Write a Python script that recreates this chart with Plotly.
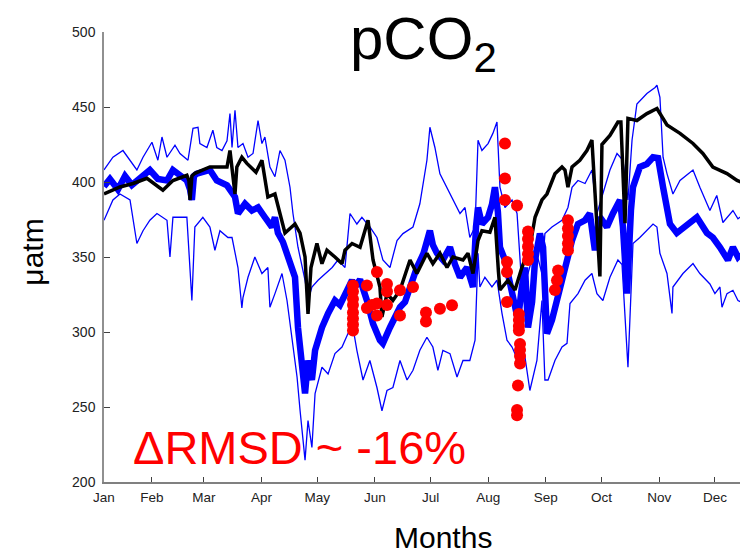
import plotly.graph_objects as go

# ---------------- data (x = day of year, y = pCO2 in µatm) ----------------
x_min, x_max = 5.2, 347.5
month_days = [x_min, 31, 59, 90, 120, 151, 181, 212, 243, 273, 304, 334]
month_labels = ["Jan", "Feb", "Mar", "Apr", "May", "Jun", "Jul", "Aug", "Sep", "Oct", "Nov", "Dec"]
y_ticks = [200, 250, 300, 350, 400, 450, 500]

black_day = [5.2, 13.8, 20.8, 28.3, 36.9, 42.3, 49.8, 50.9, 51.5, 52.5, 54.1, 62.2, 71.4, 73.0, 75.7,
             76.7, 79.4, 82.1, 87.0, 90.2, 93.4, 97.2, 99.9, 102.6, 108.0, 110.7, 113.4, 115.0, 116.6,
             119.8, 122.5, 125.2, 129.5, 133.3, 134.9, 138.7, 143.0, 147.3, 150.0, 153.7, 154.8, 157.5,
             160.7, 164.5, 169.9, 173.6, 179.0, 182.2, 186.0, 189.8, 193.0, 198.4, 201.1, 203.8, 206.5,
             208.6, 212.9, 215.6, 217.5, 218.3, 222.6, 226.4, 230.1, 234.4, 237.2, 240.9, 243.6, 247.9,
             251.7, 253.3, 254.9, 257.1, 261.3, 265.1, 267.8, 272.1, 273.2, 277.5, 281.8, 283.4, 285.6,
             287.2, 292.0, 297.4, 302.8, 308.2, 315.2, 322.2, 327.5, 332.9, 340.5, 345.9, 348.0]
black_val = [392, 396.7, 399, 402.5, 394.5, 401, 404.5, 401, 388, 404, 405.8, 410, 410, 421, 392,
             410, 416.5, 412.4, 406.5, 414.5, 390, 392, 379, 366, 372, 366, 350, 312, 343,
             359, 345.5, 354.5, 350, 345.6, 354.5, 359, 356.5, 374.5, 348, 330, 310, 325.5,
             321, 327.8, 348, 339, 352.5, 345.6, 352.5, 343, 350, 348, 352.5, 339, 361,
             367.5, 366.5, 376.5, 340, 328, 334.5, 328, 343, 356.5, 376.5, 388, 392, 405.5,
             410, 408, 396.5, 410, 414.5, 421, 428, 337, 425, 431, 440, 440, 372.5,
             442.4, 441, 445.6, 449, 438, 432.4, 425.7, 419, 410, 405.6, 401, 400]

mid_day = [5.2, 8.4, 12.7, 16.5, 20.2, 24.5, 29.9, 34.2, 39.1, 42.3, 46.1, 49.8, 51.5, 52.5, 53.6,
           55.2, 62.2, 65.9, 71.4, 74.1, 75.7, 77.3, 81.1, 84.8, 88.1, 91.8, 95.6, 97.2, 98.8, 101.5,
           104.2, 106.4, 108.0, 109.6, 110.7, 111.7, 113.4, 115.0, 117.1, 118.8, 120.4, 122.5, 125.8,
           129.5, 132.2, 134.9, 138.7, 140.3, 143.0, 146.7, 150.0, 153.7, 155.3, 159.1, 161.8, 164.5,
           167.2, 169.9, 173.6, 177.2, 180.6, 182.2, 184.4, 187.6, 191.4, 194.1, 196.8, 200.6, 203.8,
           205.4, 206.5, 208.6, 211.9, 214.0, 215.6, 217.2, 218.3, 221.0, 222.6, 225.3, 228.0, 230.1,
           231.8, 233.4, 235.6, 237.2, 239.8, 241.5, 243.6, 246.3, 249.6, 253.3, 257.1, 260.3, 264.1,
           266.7, 269.4, 272.1, 275.9, 279.1, 282.9, 284.5, 286.7, 288.8, 289.9, 293.6, 297.4, 300.7,
           303.4, 306.1, 309.8, 313.5, 319.0, 324.3, 329.7, 332.9, 336.7, 341.0, 343.7, 346.4, 348.0]
mid_val = [397, 402, 395, 404, 398, 403, 408, 402, 401, 408, 404, 401, 395, 388, 404,
           405.5, 408, 401, 397.8, 392, 390, 379, 385.5, 381, 383, 376.5, 370, 376.5, 366, 360,
           350, 345, 336.5, 303, 290, 270, 259, 281, 268, 287.8, 295, 303, 312.4,
           321, 318, 325.6, 334.5, 330, 335, 321, 305.5, 294.5, 292.4, 303, 310, 316.5,
           320, 330, 343, 352.5, 367.5, 358, 352.5, 348, 356.5, 345, 336.5, 343, 330,
           370, 383, 372, 376.5, 385, 396.5, 380, 356.5, 348, 339, 325.5, 308, 330,
           343, 303, 320, 348, 365.6, 356.5, 299, 308, 325.5, 343, 361, 372, 374.5,
           379, 354.5, 376.5, 370, 379, 388, 370, 325.6, 381, 396.5, 410, 412, 416.5,
           416, 396.5, 372, 366, 372, 376.5, 366, 363, 356.5, 348, 356.5, 350, 352]

upper_day = [5.2, 10.0, 15.4, 19.2, 22.9, 26.2, 31.0, 34.2, 36.4, 39.1, 43.4, 46.1, 50.4, 53.1, 55.8,
             56.8, 60.6, 63.8, 65.9, 68.7, 71.4, 73.0, 74.1, 75.7, 77.3, 80.0, 82.7, 85.4, 88.1, 90.2,
             91.8, 94.5, 97.2, 99.9, 102.6, 105.3, 106.9, 109.6, 111.7, 113.4, 115.0, 117.1, 120.4,
             124.3, 128.0, 131.1, 134.9, 137.6, 141.3, 144.0, 148.3, 152.1, 155.3, 159.1, 162.9, 166.1,
             171.5, 175.2, 179.0, 180.6, 183.3, 186.0, 189.8, 193.0, 196.8, 199.5, 202.1, 204.9, 206.5,
             208.6, 211.9, 214.5, 216.7, 218.3, 221.0, 224.8, 227.5, 230.1, 233.4, 237.2, 240.9, 242.5,
             246.3, 251.7, 254.9, 257.1, 260.3, 264.1, 267.8, 270.5, 272.1, 277.5, 281.3, 284.5, 287.2,
             289.4, 292.0, 297.4, 301.8, 302.8, 304.4, 306.1, 308.2, 311.4, 315.2, 322.2, 325.9, 331.3,
             335.0, 338.3, 343.7, 346.4, 348.0]
upper_val = [408, 416.5, 421, 414.5, 408, 416.5, 426.5, 414.5, 430, 416.5, 424.5, 419, 414.5, 435.8, 436.5,
             425.6, 423, 434.5, 423, 421, 427.5, 445.6, 423, 447.8, 423, 425.6, 416.5, 419, 441, 425.6,
             430, 410, 403.5, 421, 414.5, 396.5, 379, 356.5, 343, 334.5, 321, 330, 334.5,
             339, 343, 348, 343, 379, 372, 376.5, 370, 363, 348, 343, 361, 365.6,
             370, 385.5, 414.5, 436.5, 423, 405.5, 396.5, 388, 379, 383, 363, 370, 427.8,
             421, 425.6, 432.4, 440, 396.5, 383, 388, 379, 330, 339, 356.5, 339, 365.6,
             370, 374.5, 383, 396.5, 401, 399, 408, 379, 385.5, 408, 419, 414.5, 388,
             428, 452, 459, 463, 464.5, 456.5, 416.5, 405.6, 392, 401, 408, 396.5, 381,
             391, 373, 381, 375.5, 377]

lower_day = [5.2, 10.0, 13.8, 19.2, 22.9, 26.2, 29.9, 33.7, 39.1, 40.7, 42.3, 49.8, 52.5, 54.1, 58.4,
             62.2, 64.9, 67.6, 71.9, 74.1, 77.3, 79.4, 80.0, 82.7, 86.4, 90.2, 93.4, 94.5, 97.2, 101.0,
             103.7, 106.4, 109.1, 110.7, 113.4, 115.0, 117.1, 118.8, 122.5, 125.8, 129.5, 133.3, 136.5,
             139.2, 141.3, 144.6, 148.3, 152.1, 154.8, 157.5, 160.7, 164.5, 168.3, 171.5, 175.2, 179.0,
             182.2, 184.9, 187.6, 191.4, 195.2, 198.4, 202.1, 204.9, 206.5, 207.5, 210.2, 214.0, 216.7,
             219.4, 222.1, 224.8, 228.0, 230.7, 234.4, 238.2, 240.9, 242.5, 244.2, 247.9, 251.7, 254.4,
             256.0, 260.3, 264.1, 267.8, 270.5, 273.7, 277.5, 281.8, 284.0, 287.2, 289.9, 293.6, 297.4,
             300.7, 302.8, 304.4, 308.2, 310.9, 311.4, 316.8, 322.2, 325.9, 331.3, 334.0, 336.7, 337.8,
             340.5, 343.7, 346.4, 348.0]
lower_val = [374.5, 388, 392, 388, 359, 367.5, 374.5, 379, 374.5, 350, 376.5, 376.5, 321, 370, 376.5,
             370, 354.5, 367.5, 363, 363, 343, 316, 323, 336.5, 350, 339, 343, 316.5, 325.6, 339,
             321, 296.5, 270, 248, 214.6, 241, 223, 259, 276.5, 272, 285.6, 290, 299,
             303, 287.8, 268, 281, 263, 247.5, 261, 263, 281, 268, 274.5, 287.8, 296.5,
             290, 274.5, 287.8, 285.6, 270, 281, 281, 294.5, 352.5, 330, 336.5, 330, 334.5,
             312.4, 294.5, 290, 281, 292.4, 261, 281, 321, 268, 268, 281, 290, 292.4,
             319, 325.6, 334.5, 339, 325.6, 321, 336.5, 348, 345, 276.5, 359, 363, 367.5,
             372, 370, 352.5, 339, 312.4, 330, 339, 345.6, 339, 332, 325.6, 330, 316.5,
             325.6, 327.8, 321, 320]

obs_day = [139.2, 139.2, 139.2, 139.2, 139.2, 139.2, 139.2, 139.2,
           146.7, 146.7, 149.4, 152.1, 152.1, 152.1, 157.5, 157.5, 157.5,
           164.5, 164.5, 171.5, 178.5, 178.5, 186.0, 192.5,
           221.0, 221.0, 221.0, 222.1, 222.1, 222.1, 227.5,
           228.5, 228.5, 228.5, 228.5, 229.1, 229.1, 229.1, 229.1, 228.0, 227.5, 227.5,
           233.4, 233.4, 233.4, 233.4, 233.4,
           247.9, 249.0, 249.6,
           254.9, 254.9, 254.9, 254.9, 254.9]
obs_val = [331, 327, 322, 318, 313, 309, 305, 301,
           331, 316, 318, 340, 319, 311, 332, 327, 318,
           327.8, 311, 330, 313, 307, 315.5, 317.8,
           425.6, 402.3, 388, 346.6, 340, 320, 384.4,
           312, 308, 304, 301, 292, 288, 284, 279, 264.4, 248, 244.5,
           367, 362, 357, 352, 348,
           328, 334.5, 341,
           374.5, 369, 364, 359, 354.5]

# ---------------- figure ----------------
fig = go.Figure()
fig.add_trace(go.Scatter(x=upper_day, y=upper_val, mode="lines",
                         line=dict(color="#0000ff", width=1.3), showlegend=False))
fig.add_trace(go.Scatter(x=lower_day, y=lower_val, mode="lines",
                         line=dict(color="#0000ff", width=1.3), showlegend=False))
fig.add_trace(go.Scatter(x=mid_day, y=mid_val, mode="lines",
                         line=dict(color="#0000ff", width=6.5), showlegend=False))
fig.add_trace(go.Scatter(x=black_day, y=black_val, mode="lines",
                         line=dict(color="#000000", width=3.5), showlegend=False))
fig.add_trace(go.Scatter(x=obs_day, y=obs_val, mode="markers",
                         marker=dict(color="#ff0000", size=12, line=dict(width=0)), showlegend=False))

font_main = "Liberation Sans, Arial, Helvetica, sans-serif"

fig.update_layout(
    width=740, height=555,
    margin=dict(l=104, r=0, t=32, b=73),
    paper_bgcolor="white", plot_bgcolor="white",
    font=dict(family=font_main, color="#222222"),
    xaxis=dict(range=[x_min, x_max], tickvals=month_days, ticktext=month_labels,
               showgrid=False, zeroline=False, showline=True, linecolor="#808080", linewidth=1.5,
               ticks="inside", ticklen=5, tickcolor="#404040", tickfont=dict(size=13.5, color="#222222"),
               ticklabelstandoff=2),
    yaxis=dict(range=[200, 500], tickvals=y_ticks,
               showgrid=False, zeroline=False, showline=True, linecolor="#909090", linewidth=1.5,
               ticks="inside", ticklen=6, tickcolor="#404040", tickfont=dict(size=14, color="#222222"),
               ticklabelstandoff=4),
    annotations=[
        dict(text="pCO<sub>2</sub>", xref="paper", yref="paper", x=0.503, y=0.975,
             xanchor="center", yanchor="middle", showarrow=False,
             font=dict(size=60, color="black", family=font_main)),
        dict(text="ΔRMSD ~ -16%", xref="paper", yref="paper", x=0.0425, y=0.077,
             xanchor="left", yanchor="middle", showarrow=False,
             font=dict(size=47, color="#ff0000", family=font_main)),
        dict(text="μatm", xref="paper", yref="paper", x=-0.113, y=0.51,
             xanchor="center", yanchor="middle", textangle=-90, showarrow=False,
             font=dict(size=30, color="black", family=font_main)),
        dict(text="Months", xref="paper", yref="paper", x=0.533, y=-0.123,
             xanchor="center", yanchor="middle", showarrow=False,
             font=dict(size=30, color="black", family=font_main)),
    ],
)

fig.write_html("out.html")
